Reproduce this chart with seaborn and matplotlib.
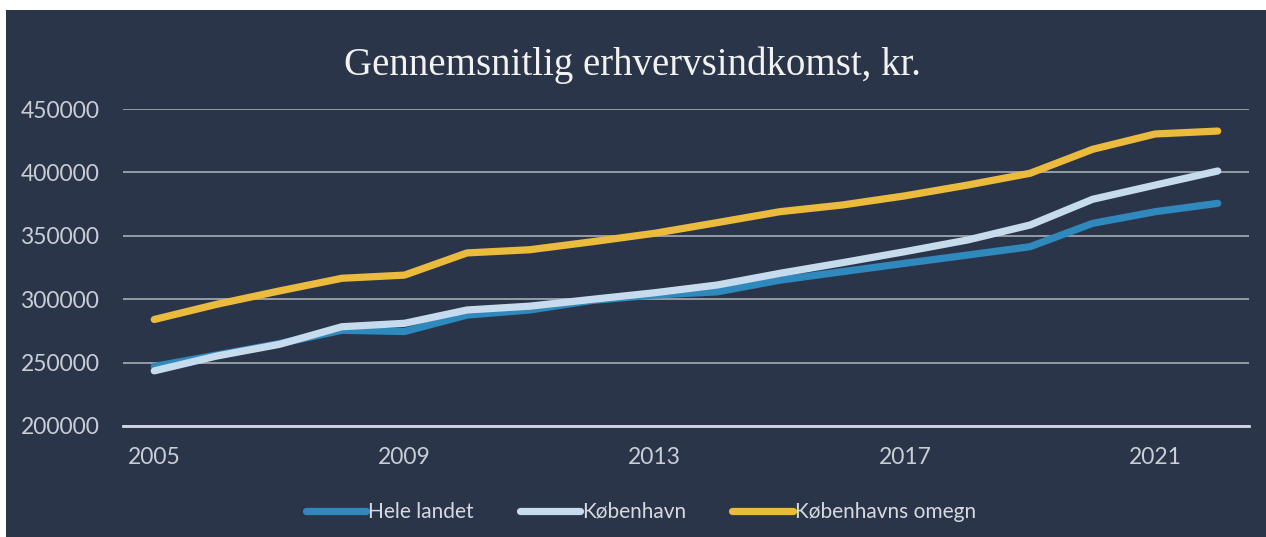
import matplotlib
matplotlib.use("Agg")
import matplotlib.pyplot as plt
import matplotlib.patches as mpatches
import seaborn as sns
import pandas as pd

years = list(range(2005, 2023))
hele_landet = [247000, 256000, 265000, 275500, 274500, 287500, 291500, 299000, 303300, 305800,
               315000, 321700, 328300, 334800, 341400, 359800, 369000, 375600]
koebenhavn = [243500, 255200, 264400, 278300, 281000, 291500, 294500, 299900, 305100, 311200,
              320400, 328800, 337500, 346700, 358500, 378800, 390000, 401100]
omegn = [284000, 296000, 306500, 316500, 319000, 336500, 339000, 345300, 352000, 360400,
         369000, 374300, 381500, 390000, 399300, 418200, 430300, 432600]
series_names = ["Hele landet", "København", "Københavns omegn"]
xtick_years = [2005, 2009, 2013, 2017, 2021]
ytick_vals = [200000, 250000, 300000, 350000, 400000, 450000]
title = "Gennemsnitlig erhvervsindkomst, kr."

df = pd.DataFrame({
    "år": years * 3,
    "kr": hele_landet + koebenhavn + omegn,
    "serie": [series_names[0]] * len(years) + [series_names[1]] * len(years) + [series_names[2]] * len(years),
})

sns.set_theme(style="white")
plt.rcParams["font.family"] = ["Lato", "DejaVu Sans"]

bg = "#2b3549"
palette = {"Hele landet": "#3089bd", "København": "#c6dcee", "Københavns omegn": "#ebbb3d"}

fig = plt.figure(figsize=(12.66, 5.37), dpi=100, facecolor="white")
fig.patches.append(mpatches.Rectangle((6 / 1266, 0), 1, 1 - 10 / 537, transform=fig.transFigure,
                                      facecolor=bg, edgecolor="none", zorder=-10))
ax = fig.add_axes([123 / 1266, 1 - 426 / 537, (1249 - 123) / 1266, (426 - 109) / 537])
ax.set_facecolor(bg)

sns.lineplot(data=df, x="år", y="kr", hue="serie", palette=palette, hue_order=series_names,
             linewidth=5.2, ax=ax, legend=True, solid_capstyle="round", solid_joinstyle="round")

ax.set_xlim(2004.5, 2022.5)
ax.set_ylim(200000, 450000)
ax.set_xticks(xtick_years)
ax.set_xticklabels([str(y) for y in xtick_years])
ax.set_yticks(ytick_vals)
ax.set_yticklabels([str(v) for v in ytick_vals])
ax.set_xlabel("")
ax.set_ylabel("")
ax.yaxis.grid(True, color="#959ca6", linewidth=1.4)
ax.set_axisbelow(True)
for s in ["top", "right", "left"]:
    ax.spines[s].set_visible(False)
ax.spines["bottom"].set_color("#d2d9e6")
ax.spines["bottom"].set_linewidth(2)
ax.tick_params(axis="both", length=0, colors="#c9ced6", labelsize=16.5)
ax.tick_params(axis="y", pad=17)
ax.tick_params(axis="x", pad=15)

fig.text(0.5, 1 - 65 / 537, title, ha="center", va="center", color="#f2f2f2",
         fontsize=28, family=["Liberation Serif", "DejaVu Serif"])

handles, labels = ax.get_legend_handles_labels()
ax.legend(handles, labels, loc="center", bbox_to_anchor=(641 / 1266, 1 - 512 / 537),
          bbox_transform=fig.transFigure, ncol=3, frameon=False, handlelength=2.9,
          handletextpad=0.1, columnspacing=2.2, fontsize=15, labelcolor="#d6dae0")

fig.savefig("out.png", dpi=100, facecolor=fig.get_facecolor())
